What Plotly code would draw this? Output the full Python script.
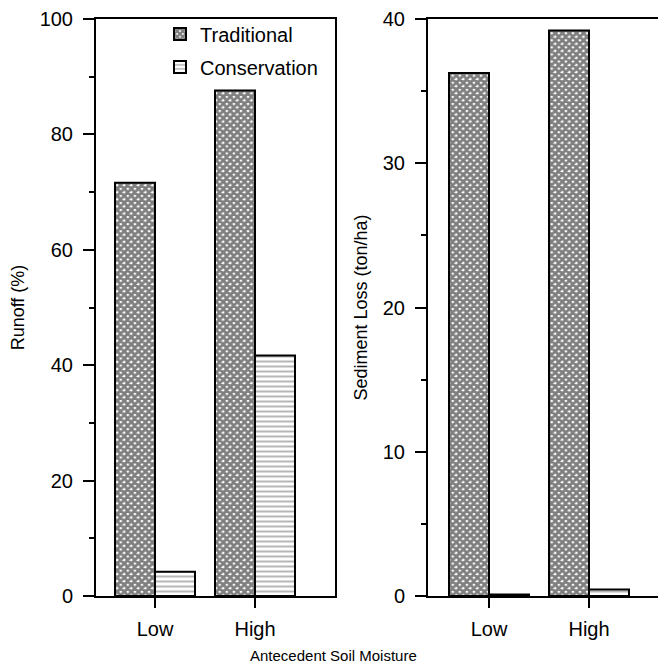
import plotly.graph_objects as go

categories = ["Low", "High"]
runoff_traditional = [71.6, 87.6]
runoff_conservation = [4.2, 41.7]
sediment_traditional = [36.25, 39.2]
sediment_conservation = [0.1, 0.45]
runoff_ticks = [0, 20, 40, 60, 80, 100]
sediment_ticks = [0, 10, 20, 30, 40]

FONT = "Liberation Sans, Arial, sans-serif"
W, H = 666, 671
OFF = 8  # browser body margin offset

trad_marker = dict(color="white", line=dict(color="black", width=2),
                   pattern=dict(shape="x", fgcolor="black", bgcolor="white", size=5, solidity=0.8))
cons_marker = dict(color="white", line=dict(color="black", width=2),
                   pattern=dict(shape="-", fgcolor="#707070", bgcolor="white", size=5, solidity=0.4))

fig = go.Figure()
fig.add_trace(go.Bar(x=categories, y=runoff_traditional, name="Traditional", marker=trad_marker,
                     xaxis="x", yaxis="y", legendgroup="t"))
fig.add_trace(go.Bar(x=categories, y=runoff_conservation, name="Conservation", marker=cons_marker,
                     xaxis="x", yaxis="y", legendgroup="c"))
fig.add_trace(go.Bar(x=categories, y=sediment_traditional, name="Traditional", marker=trad_marker,
                     xaxis="x2", yaxis="y2", showlegend=False, legendgroup="t"))
fig.add_trace(go.Bar(x=categories, y=sediment_conservation, name="Conservation", marker=cons_marker,
                     xaxis="x2", yaxis="y2", showlegend=False, legendgroup="c"))

axis_common = dict(showgrid=False, zeroline=False, showline=True, linecolor="black", linewidth=2,
                   ticks="outside", tickcolor="black", tickwidth=1.5,
                   tickfont=dict(family=FONT, size=20, color="black"))

top = 19 - OFF
bottom = 596 - OFF
fig.update_layout(
    width=W, height=H,
    margin=dict(l=0, r=0, t=top, b=H - bottom),
    paper_bgcolor="white", plot_bgcolor="white",
    barmode="group", bargap=0.2, bargroupgap=0,
    font=dict(family=FONT, color="black"),
    xaxis=dict(axis_common, domain=[(96 - OFF) / W, (335 - OFF) / W], range=[-0.59, 1.8], mirror=True,
               ticklen=10, ticklabelstandoff=4, anchor="y"),
    yaxis=dict(axis_common, domain=[0, 1], range=[0, 100], tickvals=runoff_ticks, mirror=True,
               ticklen=11, ticklabelstandoff=6, anchor="x",
               minor=dict(dtick=10, ticks="outside", ticklen=5, tickcolor="black", tickwidth=1.5),
               title=dict(text="Runoff (%)", font=dict(family=FONT, size=18), standoff=10)),
    xaxis2=dict(axis_common, domain=[(428 - OFF) / W, 1.0], range=[-0.61, 1.85], mirror=True,
                ticklen=10, ticklabelstandoff=4, anchor="y2"),
    yaxis2=dict(axis_common, domain=[0, 1], range=[0, 40], tickvals=sediment_ticks, mirror=False,
                ticklen=11, ticklabelstandoff=6, anchor="x2",
                minor=dict(dtick=5, ticks="outside", ticklen=5, tickcolor="black", tickwidth=1.5),
                title=dict(text="Sediment Loss (ton/ha)", font=dict(family=FONT, size=18), standoff=10)),
    legend=dict(x=(160 - OFF) / W, y=1.008, xanchor="left", yanchor="top", bgcolor="rgba(0,0,0,0)",
                font=dict(family=FONT, size=20, color="black"), itemwidth=30, tracegroupgap=4),
    showlegend=True,
    annotations=[dict(text="Antecedent Soil Moisture", xref="paper", yref="paper",
                      x=(333 - OFF) / W, y=(596 - 655) / 577, xanchor="center", yanchor="middle",
                      showarrow=False, font=dict(family=FONT, size=15, color="black"))],
)

fig.write_html("out.html")
